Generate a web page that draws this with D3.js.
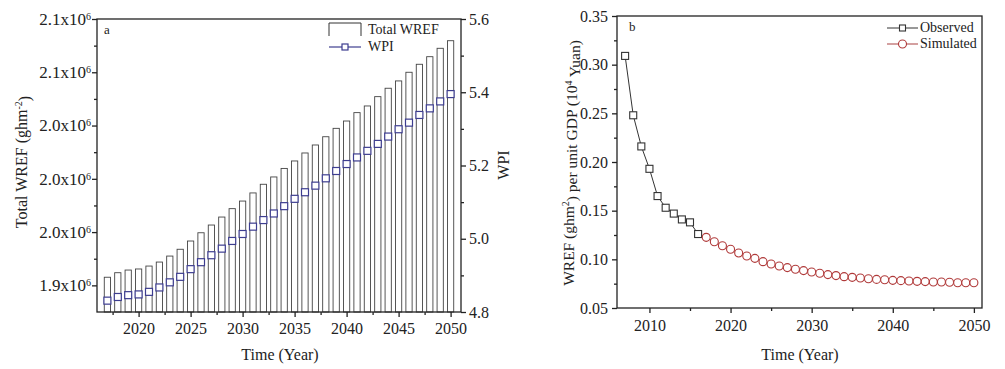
<!DOCTYPE html>
<meta charset="utf-8">
<script src="https://cdn.jsdelivr.net/npm/d3@7"></script>
<style>
body {
  margin: 0;
  background-color: #fff;
}
svg {
  font-family: "Liberation Serif", "Times New Roman", serif;
  fill: #222;
}
.axis path,
.axis line {
  fill: none;
  stroke: #222;
  stroke-width: 1.3px;
}
</style>
<body>
<svg id="chart" width="1005" height="369"></svg>
</body>
<script>
// panel a data
var yearsA = [2017, 2018, 2019, 2020, 2021, 2022, 2023, 2024, 2025, 2026, 2027, 2028,
              2029, 2030, 2031, 2032, 2033, 2034, 2035, 2036, 2037, 2038, 2039, 2040,
              2041, 2042, 2043, 2044, 2045, 2046, 2047, 2048, 2049, 2050];
var totalWref = [1926100, 1929500, 1931500, 1932300, 1934500, 1937500, 1942000, 1947100,
                 1953300, 1959500, 1965300, 1971300, 1977600, 1983300, 1989400, 1995900,
                 2001400, 2007800, 2013400, 2019400, 2025400, 2031600, 2037900, 2043400,
                 2049700, 2054700, 2061700, 2068000, 2073500, 2080000, 2086000, 2091700,
                 2098000, 2103700];
var wpi = [4.831, 4.841, 4.846, 4.848, 4.855, 4.867, 4.881, 4.896, 4.917, 4.936, 4.955, 4.973,
           4.994, 5.013, 5.033, 5.051, 5.069, 5.089, 5.109, 5.127, 5.145, 5.165, 5.185, 5.204,
           5.222, 5.240, 5.259, 5.279, 5.299, 5.317, 5.338, 5.356, 5.375, 5.395];
var wrefTicks = [1920000, 1960000, 2000000, 2040000, 2080000, 2120000];
var wpiTicks = [4.8, 5.0, 5.2, 5.4, 5.6];
var yearTicksA = [2020, 2025, 2030, 2035, 2040, 2045, 2050];

// panel b data
var obsYears = [2007, 2008, 2009, 2010, 2011, 2012, 2013, 2014, 2015, 2016];
var observed = [0.309, 0.248, 0.216, 0.193, 0.165, 0.153, 0.147, 0.141, 0.138, 0.126];
var simYears = yearsA;
var simulated = [0.1226, 0.1181, 0.1140, 0.1103, 0.1065, 0.1034, 0.1010, 0.0976, 0.0952, 0.0932,
                 0.0915, 0.0898, 0.0884, 0.0870, 0.0857, 0.0843, 0.0833, 0.0822, 0.0815, 0.0808,
                 0.0801, 0.0794, 0.0791, 0.0784, 0.0781, 0.0777, 0.0774, 0.0771, 0.0767, 0.0767,
                 0.0764, 0.0760, 0.0760, 0.0760];
var intTicksB = [0.05, 0.10, 0.15, 0.20, 0.25, 0.30, 0.35];
var yearTicksB = [2010, 2020, 2030, 2040, 2050];

var serif = "'Liberation Serif', 'Times New Roman', serif";
var svg = d3.select("#chart");

function minor(ticks) {
  var out = [];
  for (var i = 0; i < ticks.length - 1; i++) out.push((ticks[i] + ticks[i + 1]) / 2);
  return out;
}

function clean(g) {
  g.select(".domain").remove();
  g.attr("font-family", serif).attr("font-size", 16);
  g.selectAll("text").style("font-family", serif).style("font-size", "16px").attr("fill", "#222");
}

// ---------- panel a ----------
var a = {left: 97, right: 461, top: 19, bottom: 312};
var xa = d3.scaleLinear().domain([2016, 2051]).range([a.left, a.right]);
var ya = d3.scaleLinear().domain([1900000, 2120000]).range([a.bottom, a.top]);
var yw = d3.scaleLinear().domain([4.8, 5.6]).range([a.bottom, a.top]);

var ga = svg.append("g");

ga.selectAll(".bar")
  .data(yearsA)
  .enter().append("rect")
  .attr("class", "bar")
  .attr("x", function(d) { return xa(d - 0.3); })
  .attr("width", function(d) { return xa(d + 0.3) - xa(d - 0.3); })
  .attr("y", function(d, i) { return ya(totalWref[i]); })
  .attr("height", function(d, i) { return a.bottom - ya(totalWref[i]); })
  .attr("fill", "none")
  .attr("stroke", "#444")
  .attr("stroke-width", 0.9);

ga.selectAll(".wpi")
  .data(yearsA)
  .enter().append("rect")
  .attr("class", "wpi")
  .attr("x", function(d) { return xa(d) - 3.5; })
  .attr("y", function(d, i) { return yw(wpi[i]) - 3.5; })
  .attr("width", 7)
  .attr("height", 7)
  .attr("fill", "#fff")
  .attr("stroke", "#3d3d8f")
  .attr("stroke-width", 1.2);

// frame
ga.append("rect")
  .attr("x", a.left).attr("y", a.top)
  .attr("width", a.right - a.left).attr("height", a.bottom - a.top)
  .attr("fill", "none").attr("stroke", "#222").attr("stroke-width", 1.3);

ga.append("g").attr("class", "axis")
  .attr("transform", "translate(0," + a.bottom + ")")
  .call(d3.axisBottom(xa).tickValues(yearTicksA).tickSize(5).tickSizeOuter(0).tickPadding(6).tickFormat(d3.format("d")))
  .call(clean);
ga.append("g").attr("class", "axis")
  .attr("transform", "translate(0," + a.bottom + ")")
  .call(d3.axisBottom(xa).tickValues(minor(yearTicksA).concat([2017.5])).tickSize(3).tickFormat(""))
  .call(clean);

var la = ga.append("g").attr("class", "axis")
  .attr("transform", "translate(" + a.left + ",0)")
  .call(d3.axisLeft(ya).tickValues(wrefTicks).tickSize(5).tickPadding(1))
  .call(clean);
la.selectAll(".tick text").each(function(d) {
  var t = d3.select(this).text(null).style("font-size", "17px");
  t.append("tspan").text((d / 1e6).toFixed(1) + "x10");
  t.append("tspan").attr("dy", "-0.5em").style("font-size", "10px").text("6");
});
ga.append("g").attr("class", "axis")
  .attr("transform", "translate(" + a.left + ",0)")
  .call(d3.axisLeft(ya).tickValues(minor(wrefTicks)).tickSize(3).tickFormat(""))
  .call(clean);

ga.append("g").attr("class", "axis")
  .attr("transform", "translate(" + a.right + ",0)")
  .call(d3.axisRight(yw).tickValues(wpiTicks).tickSize(5).tickPadding(3).tickFormat(d3.format(".1f")))
  .call(clean);
ga.append("g").attr("class", "axis")
  .attr("transform", "translate(" + a.right + ",0)")
  .call(d3.axisRight(yw).tickValues(minor(wpiTicks)).tickSize(3).tickFormat(""))
  .call(clean);

ga.append("text").attr("x", 104).attr("y", 34).style("font-size", "13px").text("a");

// labels a
ga.append("text").attr("x", 280).attr("y", 360).attr("text-anchor", "middle")
  .style("font-size", "16px").text("Time (Year)");
var yla = ga.append("text").attr("transform", "translate(27,162) rotate(-90)")
  .attr("text-anchor", "middle").style("font-size", "16px");
yla.append("tspan").text("Total WREF (ghm");
yla.append("tspan").attr("dy", "-0.5em").style("font-size", "10px").text("-2");
yla.append("tspan").attr("dy", "0.5em").text(")");
ga.append("text").attr("transform", "translate(509,165) rotate(-90)")
  .attr("text-anchor", "middle").style("font-size", "16px").text("WPI");

// legend a
ga.append("path").attr("d", "M329,36V23H361V36").attr("fill", "none").attr("stroke", "#333");
ga.append("text").attr("x", 368).attr("y", 34).style("font-size", "14px").text("Total WREF");
ga.append("line").attr("x1", 329).attr("x2", 361).attr("y1", 47).attr("y2", 47)
  .attr("stroke", "#3d3d8f").attr("stroke-width", 1.2);
ga.append("rect").attr("x", 342).attr("y", 44).attr("width", 6).attr("height", 6)
  .attr("fill", "#fff").attr("stroke", "#3d3d8f").attr("stroke-width", 1.2);
ga.append("text").attr("x", 368).attr("y", 51).style("font-size", "14px").text("WPI");

// ---------- panel b ----------
var b = {left: 617, right: 982, top: 16, bottom: 308};
var xb = d3.scaleLinear().domain([2006, 2051]).range([b.left, b.right]);
var yb = d3.scaleLinear().domain([0.05, 0.35]).range([b.bottom, b.top]);

var gb = svg.append("g");

var lineB = d3.line()
  .x(function(d) { return xb(d[0]); })
  .y(function(d) { return yb(d[1]); });

gb.append("path")
  .datum(obsYears.map(function(y, i) { return [y, observed[i]]; }))
  .attr("d", lineB).attr("fill", "none").attr("stroke", "#333").attr("stroke-width", 1);
gb.append("path")
  .datum(simYears.map(function(y, i) { return [y, simulated[i]]; }))
  .attr("d", lineB).attr("fill", "none").attr("stroke", "#b03a3a").attr("stroke-width", 1);

gb.selectAll(".obs")
  .data(obsYears)
  .enter().append("rect")
  .attr("class", "obs")
  .attr("x", function(d) { return xb(d) - 3.5; })
  .attr("y", function(d, i) { return yb(observed[i]) - 3.5; })
  .attr("width", 7).attr("height", 7)
  .attr("fill", "#fff").attr("stroke", "#333").attr("stroke-width", 1.1);

gb.selectAll(".sim")
  .data(simYears)
  .enter().append("circle")
  .attr("class", "sim")
  .attr("cx", function(d) { return xb(d); })
  .attr("cy", function(d, i) { return yb(simulated[i]); })
  .attr("r", 4)
  .attr("fill", "#fff").attr("stroke", "#b03a3a").attr("stroke-width", 1.1);

gb.append("rect")
  .attr("x", b.left).attr("y", b.top)
  .attr("width", b.right - b.left).attr("height", b.bottom - b.top)
  .attr("fill", "none").attr("stroke", "#222").attr("stroke-width", 1.3);

gb.append("g").attr("class", "axis")
  .attr("transform", "translate(0," + b.bottom + ")")
  .call(d3.axisBottom(xb).tickValues(yearTicksB).tickSize(5).tickPadding(7).tickFormat(d3.format("d")))
  .call(clean);
gb.append("g").attr("class", "axis")
  .attr("transform", "translate(0," + b.bottom + ")")
  .call(d3.axisBottom(xb).tickValues(minor(yearTicksB)).tickSize(3).tickFormat(""))
  .call(clean);

gb.append("g").attr("class", "axis")
  .attr("transform", "translate(" + b.left + ",0)")
  .call(d3.axisLeft(yb).tickValues(intTicksB).tickSize(5).tickPadding(4).tickFormat(d3.format(".2f")))
  .call(clean);
gb.append("g").attr("class", "axis")
  .attr("transform", "translate(" + b.left + ",0)")
  .call(d3.axisLeft(yb).tickValues(minor(intTicksB)).tickSize(3).tickFormat(""))
  .call(clean);

gb.append("text").attr("x", 629).attr("y", 31).style("font-size", "13px").text("b");

gb.append("text").attr("x", 800).attr("y", 360).attr("text-anchor", "middle")
  .style("font-size", "16px").text("Time (Year)");
var ylb = gb.append("text").attr("transform", "translate(574,163) rotate(-90)")
  .attr("text-anchor", "middle").style("font-size", "15.5px");
ylb.append("tspan").text("WREF (ghm");
ylb.append("tspan").attr("dy", "-0.5em").style("font-size", "10px").text("2");
ylb.append("tspan").attr("dy", "0.5em").text(") per unit GDP (10");
ylb.append("tspan").attr("dy", "-0.5em").style("font-size", "10px").text("4");
ylb.append("tspan").attr("dy", "0.5em").text(" Yuan)");

// legend b
gb.append("line").attr("x1", 887).attr("x2", 918).attr("y1", 28).attr("y2", 28)
  .attr("stroke", "#333").attr("stroke-width", 1);
gb.append("rect").attr("x", 899.5).attr("y", 25).attr("width", 6).attr("height", 6)
  .attr("fill", "#fff").attr("stroke", "#333").attr("stroke-width", 1.1);
gb.append("text").attr("x", 920).attr("y", 32).style("font-size", "14px").text("Observed");
gb.append("line").attr("x1", 887).attr("x2", 918).attr("y1", 44).attr("y2", 44)
  .attr("stroke", "#b86060").attr("stroke-width", 1.2);
gb.append("circle").attr("cx", 902.5).attr("cy", 44).attr("r", 4)
  .attr("fill", "#fff").attr("stroke", "#b03a3a").attr("stroke-width", 1.1);
gb.append("text").attr("x", 920).attr("y", 48).style("font-size", "14px").text("Simulated");
</script>
